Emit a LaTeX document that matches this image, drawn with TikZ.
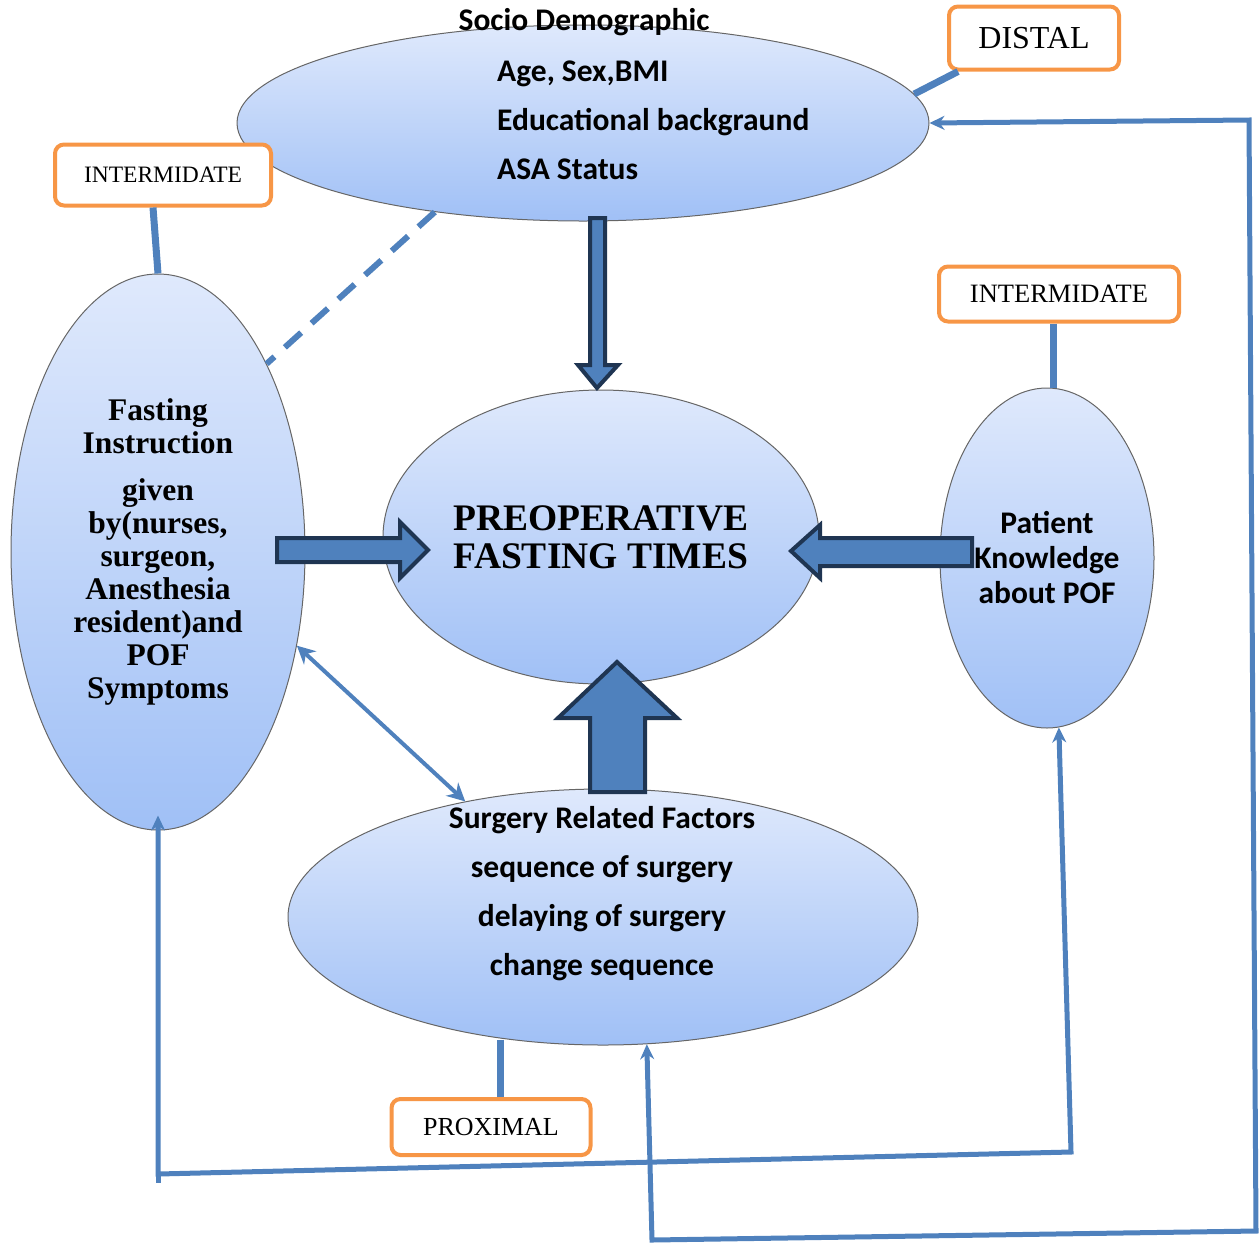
\documentclass[tikz,border=0pt]{standalone}
\usepackage{fontspec}
\setmainfont{Liberation Serif}
\newfontfamily\calfont{Carlito}
\usepackage{tikz}
\usetikzlibrary{shapes.geometric, arrows.meta, positioning, calc}
\definecolor{linkblue}{RGB}{79,129,189}
\definecolor{navyedge}{RGB}{31,53,82}
\definecolor{tagorange}{RGB}{247,150,70}
\definecolor{blobtop}{RGB}{223,233,252}
\definecolor{blobbot}{RGB}{160,192,246}
\tikzset{
  blob/.style={ellipse, draw=gray!80!black, line width=1pt, top color=blobtop, bottom color=blobbot, inner sep=0pt, align=center},
  tagbox/.style={draw=tagorange, line width=4pt, rounded corners=9pt, fill=white, inner sep=0pt},
  sanstext/.style={font=\calfont\bfseries\fontsize{31.5}{49}\selectfont},
  tieline/.style={linkblue, line width=7pt},
  fbline/.style={linkblue, line width=5pt, {Stealth[length=15pt,width=14pt]}-{Stealth[length=15pt,width=14pt]}},
  twoway/.style={linkblue, line width=4pt, {Stealth[length=18pt,width=18pt]}-{Stealth[length=18pt,width=18pt]}},
  blockarrow/.style={fill=linkblue, draw=navyedge, line width=4pt, line join=miter},
}

\begin{document}
\begin{tikzpicture}[x=1pt, y=-1pt]
  \useasboundingbox (0,0) rectangle (1260,1243);

  % ellipses
  \node[blob, minimum width=692pt, minimum height=196pt] (socio) at (583,123) {};
  \node[blob, minimum width=294pt, minimum height=556pt, font=\bfseries\fontsize{31.5}{33}\selectfont] (fasting) at (158,552)
    {Fasting\\Instruction\\[14pt]given\\by(nurses,\\surgeon,\\Anesthesia\\resident)and\\POF\\Symptoms};
  \node[blob, minimum width=436pt, minimum height=294pt, font=\bfseries\fontsize{37.5}{38}\selectfont] (preop) at (601,537)
    {PREOPERATIVE\\FASTING TIMES};
  \node[blob, minimum width=214pt, minimum height=340pt, font=\calfont\bfseries\fontsize{31.5}{35}\selectfont] (patient) at (1047,558)
    {Patient\\Knowledge\\about POF};
  \node[blob, minimum width=630pt, minimum height=256pt] (surg) at (603,917) {};

  \node[sanstext] (sociohd) at (584,22) {Socio Demographic};
  \node[sanstext, anchor=west, align=left, inner sep=0pt] (sociolist) at (497,120) {Age, Sex,BMI\\Educational backgraund\\ASA Status};
  \node[sanstext, align=center] (surgtxt) at (602,894) {Surgery Related Factors\\sequence of surgery\\delaying of surgery\\change sequence};

  % level tags
  \node[tagbox, minimum width=170pt, minimum height=63pt, font=\fontsize{32}{36}\selectfont] (distal) at (1034,38) {DISTAL};
  \node[tagbox, minimum width=216pt, minimum height=61pt, font=\fontsize{23.5}{26}\selectfont] (intl) at (163,175) {INTERMIDATE};
  \node[tagbox, minimum width=240pt, minimum height=55pt, font=\fontsize{26.5}{28}\selectfont] (intr) at (1059,294) {INTERMIDATE};
  \node[tagbox, minimum width=199pt, minimum height=56pt, font=\fontsize{26}{28}\selectfont] (prox) at (491,1127) {PROXIMAL};

  \draw[tieline] ([xshift=11pt]distal.south west) -- (socio.5);
  \draw[tieline] ([xshift=-10pt]intl.south) -- (fasting.north);
  \draw[tieline] ([xshift=-6pt]intr.south) -- ([xshift=6pt]patient.north);
  \draw[tieline] ([xshift=9pt]prox.north) -- ++(0,-57);
  \draw[linkblue, line width=6pt, dash pattern=on 22pt off 14pt] (socio.211) -- (fasting.60);

  % block arrows
  \draw[blockarrow] (590,218) -- (605,218) -- (605,365) -- (618,365) -- (597,388) -- (578,365) -- (590,365) -- cycle;
  \draw[blockarrow] (277,538) -- (400,538) -- (400,522) -- (428,550) -- (400,578) -- (400,562) -- (277,562) -- cycle;
  \draw[blockarrow] (972,538) -- (820,538) -- (820,525) -- (791,551) -- (820,578) -- (820,566) -- (972,566) -- cycle;
  \draw[blockarrow] (590,792) -- (590,718) -- (558,718) -- (617,662) -- (677,718) -- (645,718) -- (645,792) -- cycle;

  \draw[twoway] (fasting.-34) -- (surg.140);

  % feedback loops
  \coordinate (bl) at (158,1174);
  \coordinate (br) at (1071,1152);
  \coordinate (tr) at (1249,120);
  \coordinate (brr) at (1256,1231);
  \coordinate (bml) at (652,1240);
  \draw[fbline] ([yshift=15pt]fasting.south) -- (bl) -- (br) -- (patient.-86);
  \draw[linkblue, line width=5pt] (bl) -- ++(0,9);
  \draw[fbline] (socio.east) -- (tr) -- (brr) -- (bml) -- (surg.-71);
\end{tikzpicture}
\end{document}
